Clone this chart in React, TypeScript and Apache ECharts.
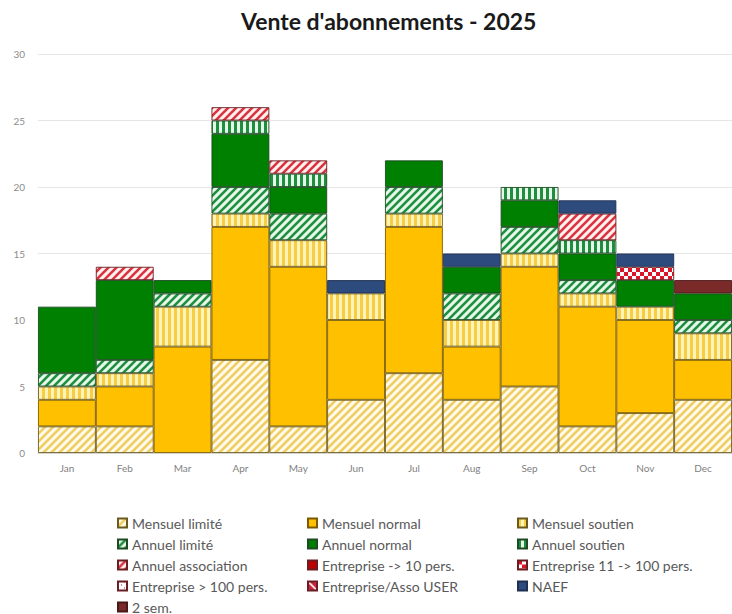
import { useEffect, useRef } from 'react';
import * as echarts from 'echarts';

const months = ['Jan', 'Feb', 'Mar', 'Apr', 'May', 'Jun', 'Jul', 'Aug', 'Sep', 'Oct', 'Nov', 'Dec'];
const yTicks = [0, 5, 10, 15, 20, 25, 30];

const mensuelLimite = [2, 2, 0, 7, 2, 4, 6, 4, 5, 2, 3, 4];
const mensuelNormal = [2, 3, 8, 10, 12, 6, 11, 4, 9, 9, 7, 3];
const mensuelSoutien = [1, 1, 3, 1, 2, 2, 1, 2, 1, 1, 1, 2];
const annuelLimite = [1, 1, 1, 2, 2, 0, 2, 2, 2, 1, 0, 1];
const annuelNormal = [5, 6, 1, 4, 2, 0, 2, 2, 2, 2, 2, 2];
const annuelSoutien = [0, 0, 0, 1, 1, 0, 0, 0, 1, 1, 0, 0];
const annuelAssociation = [0, 1, 0, 1, 1, 0, 0, 0, 0, 2, 0, 0];
const entreprise10 = [0, 0, 0, 0, 0, 0, 0, 0, 0, 0, 0, 0];
const entreprise11_100 = [0, 0, 0, 0, 0, 0, 0, 0, 0, 0, 1, 0];
const entreprise100 = [0, 0, 0, 0, 0, 0, 0, 0, 0, 0, 0, 0];
const entrepriseUser = [0, 0, 0, 0, 0, 0, 0, 0, 0, 0, 0, 0];
const naef = [0, 0, 0, 0, 0, 1, 0, 1, 0, 1, 1, 0];
const deuxSem = [0, 0, 0, 0, 0, 0, 0, 0, 0, 0, 0, 1];

const seriesNames = [
  'Mensuel limité', 'Mensuel normal', 'Mensuel soutien',
  'Annuel limité', 'Annuel normal', 'Annuel soutien',
  'Annuel association', 'Entreprise -> 10 pers.', 'Entreprise 11 -> 100 pers.',
  'Entreprise > 100 pers.', 'Entreprise/Asso USER', 'NAEF',
  '2 sem.',
];
const seriesData = [
  mensuelLimite, mensuelNormal, mensuelSoutien,
  annuelLimite, annuelNormal, annuelSoutien,
  annuelAssociation, entreprise10, entreprise11_100,
  entreprise100, entrepriseUser, naef,
  deuxSem,
];

function tile(size: number, draw: (ctx: CanvasRenderingContext2D, s: number) => void) {
  const c = document.createElement('canvas');
  c.width = size;
  c.height = size;
  const ctx = c.getContext('2d')!;
  draw(ctx, size);
  return { image: c, repeat: 'repeat', imageWidth: size, imageHeight: size } as any;
}

function diag(fg: string, bg: string, w: number, up = true) {
  return tile(8, (ctx, s) => {
    ctx.fillStyle = bg;
    ctx.fillRect(0, 0, s, s);
    ctx.strokeStyle = fg;
    ctx.lineWidth = w;
    ctx.lineCap = 'square';
    ctx.beginPath();
    if (up) {
      ctx.moveTo(-2, 2); ctx.lineTo(2, -2);
      ctx.moveTo(-1, s + 1); ctx.lineTo(s + 1, -1);
      ctx.moveTo(s - 2, s + 2); ctx.lineTo(s + 2, s - 2);
    } else {
      ctx.moveTo(-2, s - 2); ctx.lineTo(2, s + 2);
      ctx.moveTo(-1, -1); ctx.lineTo(s + 1, s + 1);
      ctx.moveTo(s - 2, -2); ctx.lineTo(s + 2, 2);
    }
    ctx.stroke();
  });
}

function vstripes(fg: string, bg: string) {
  return tile(6, (ctx, s) => {
    ctx.fillStyle = bg;
    ctx.fillRect(0, 0, s, s);
    ctx.fillStyle = fg;
    ctx.fillRect(0, 0, 3, s);
  });
}

function checker(fg: string, bg: string) {
  return tile(8, (ctx, s) => {
    ctx.fillStyle = bg;
    ctx.fillRect(0, 0, s, s);
    ctx.fillStyle = fg;
    ctx.fillRect(0, 0, 4, 4);
    ctx.fillRect(4, 4, 4, 4);
  });
}

function dots(fg: string, bg: string) {
  return tile(6, (ctx, s) => {
    ctx.fillStyle = bg;
    ctx.fillRect(0, 0, s, s);
    ctx.fillStyle = fg;
    ctx.fillRect(0, 0, 1, 1);
    ctx.fillRect(3, 3, 1, 1);
  });
}

export default function App() {
  const ref = useRef<HTMLDivElement>(null);
  useEffect(() => {
    document.body.style.margin = '0';
    const chart = echarts.init(ref.current!, null, { renderer: 'svg' });

    const fills: any[] = [
      diag('#F0CC62', '#FFFBEA', 2.6),
      '#FFC000',
      vstripes('#F7CD45', '#FFF4B8'),
      diag('#1E8F3E', '#E6F7EA', 2.6),
      '#008000',
      vstripes('#1E8F3E', '#E6F7EA'),
      diag('#D9343F', '#FFF0F0', 2.6),
      '#C00000',
      checker('#D8172B', '#FFFFFF'),
      dots('#A0202A', '#FFFFFF'),
      diag('#FFFFFF', '#C8243A', 1.6, false),
      '#2E4B7E',
      '#7B2A2A',
    ];
    const borders = [
      '#6B5A1E', '#7A5A00', '#6B5A1E',
      '#1E4A22', '#1E4A22', '#1E4A22',
      '#6A1E22', '#6A1E22', '#6A1E22',
      '#6A1E22', '#6A1E22', '#1F3050',
      '#4A1818',
    ];

    const series = seriesNames.map((name, i) => ({
      name,
      type: 'bar',
      stack: 'total',
      barWidth: '100%',
      barCategoryGap: '0%',
      data: seriesData[i].map((v) => (v === 0 ? null : v)),
      itemStyle: { color: fills[i], borderColor: borders[i], borderWidth: 0.9 },
    }));

    const legendText = { color: '#595959', fontSize: 14, fontFamily: 'Lato', lineHeight: 14 };
    const legendCommon = {
      orient: 'vertical',
      top: 516,
      height: 120,
      padding: 0,
      itemWidth: 9,
      itemHeight: 9,
      itemGap: 7,
      icon: 'rect',
      textStyle: legendText,
      selectedMode: false,
    };

    chart.setOption({
      animation: false,
      backgroundColor: '#FFFFFF',
      title: {
        text: "Vente d'abonnements - 2025",
        left: 236,
        top: 4,
        textStyle: { fontFamily: 'Lato', fontWeight: 'bold', fontSize: 23, color: '#1a1a1a' },
      },
      grid: { left: 38, right: -2, top: 54, bottom: 161, containLabel: false },
      xAxis: {
        type: 'category',
        data: months,
        axisTick: { show: false },
        axisLine: { lineStyle: { color: '#D9D9D9' } },
        axisLabel: { color: '#7F7F7F', fontSize: 10, fontFamily: 'Lato', margin: 10 },
      },
      yAxis: {
        type: 'value',
        min: yTicks[0],
        max: yTicks[yTicks.length - 1],
        interval: yTicks[1] - yTicks[0],
        axisLine: { show: false },
        axisTick: { show: false },
        splitLine: { lineStyle: { color: '#E6E6E6' } },
        axisLabel: { color: '#8C8C8C', fontSize: 10, fontFamily: 'Lato', margin: 13 },
      },
      legend: [
        { ...legendCommon, left: 117, data: [seriesNames[0], seriesNames[3], seriesNames[6], seriesNames[9], seriesNames[12]] },
        { ...legendCommon, left: 307, data: [seriesNames[1], seriesNames[4], seriesNames[7], seriesNames[10]] },
        { ...legendCommon, left: 517, data: [seriesNames[2], seriesNames[5], seriesNames[8], seriesNames[11]] },
      ],
      series,
    });
    return () => chart.dispose();
  }, []);
  return <div ref={ref} style={{ width: 732, height: 614 }} />;
}
